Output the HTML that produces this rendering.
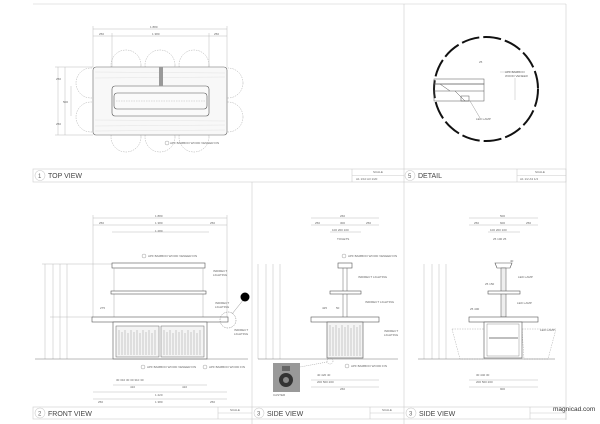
<!DOCTYPE html>
<html><head><meta charset="utf-8"><style>
html,body{margin:0;padding:0;background:#fff;width:600px;height:424px;overflow:hidden}
svg{display:block}
text{font-family:"Liberation Sans",sans-serif;fill:#666}
.t{font-size:3px}
.ti{font-size:7px;fill:#444}
</style></head><body>
<svg width="600" height="424" viewBox="0 0 600 424" xmlns="http://www.w3.org/2000/svg">
<g fill="none" stroke="#ccc" stroke-width="0.6">
<line x1="33" y1="4" x2="566" y2="4"/>
<line x1="404" y1="4" x2="404" y2="424"/>
<line x1="566" y1="4" x2="566" y2="420"/>
<line x1="252" y1="182" x2="252" y2="424"/>
<rect x="33" y="169" width="533" height="13"/>
<rect x="33" y="407" width="533" height="12"/>
<line x1="352" y1="169" x2="352" y2="182"/>
<line x1="352" y1="175.5" x2="404" y2="175.5"/>
<line x1="517" y1="169" x2="517" y2="182"/>
<line x1="517" y1="175.5" x2="566" y2="175.5"/>
<line x1="218" y1="407" x2="218" y2="419"/><line x1="218" y1="413" x2="252" y2="413"/>
<line x1="370" y1="407" x2="370" y2="419"/><line x1="370" y1="413" x2="404" y2="413"/>
<line x1="530" y1="407" x2="530" y2="419"/><line x1="530" y1="413" x2="566" y2="413"/>
<circle cx="40" cy="175.5" r="5"/><circle cx="410" cy="175.5" r="5"/>
<circle cx="40" cy="413" r="5"/><circle cx="259" cy="413" r="5"/><circle cx="411" cy="413" r="5"/>
</g>
<text x="38" y="178" class="t" style="font-size:6px">1</text><text x="48" y="178" class="ti">TOP VIEW</text>
<text x="408" y="178" class="t" style="font-size:6px">5</text><text x="418" y="178" class="ti">DETAIL</text>
<text x="38" y="415.5" class="t" style="font-size:6px">2</text><text x="48" y="416" class="ti">FRONT VIEW</text>
<text x="257" y="415.5" class="t" style="font-size:6px">3</text><text x="267" y="416" class="ti">SIDE VIEW</text>
<text x="409" y="415.5" class="t" style="font-size:6px">3</text><text x="419" y="416" class="ti">SIDE VIEW</text>
<text x="373" y="173" class="t">SCALE</text><text x="356" y="180" class="t">A1 1/10   A3 1/20</text>
<text x="535" y="173" class="t">SCALE</text><text x="520" y="180" class="t">A1 1/2   A3 1/4</text>
<text x="230" y="411" class="t">SCALE</text><text x="382" y="411" class="t">SCALE</text>
<text x="553" y="411" style="font-size:6.5px;fill:#333">magnicad.com</text>

<!-- TOP VIEW -->
<g fill="none" stroke="#bbb" stroke-width="0.5">
<line x1="93" y1="29" x2="227" y2="29"/><line x1="93" y1="36" x2="227" y2="36"/>
<line x1="93" y1="26" x2="93" y2="67"/><line x1="227" y1="26" x2="227" y2="67"/>
<line x1="112" y1="33" x2="112" y2="86"/><line x1="209" y1="33" x2="209" y2="86"/>
<line x1="58" y1="67" x2="58" y2="135"/><line x1="65" y1="67" x2="65" y2="135"/><line x1="71" y1="86" x2="71" y2="116"/>
<line x1="55" y1="67" x2="93" y2="67"/><line x1="55" y1="135" x2="93" y2="135"/>
</g>
<g fill="none" stroke="#aaa" stroke-width="0.5" stroke-dasharray="1.5,1">
<circle cx="126" cy="65" r="15"/><circle cx="160" cy="65" r="15"/><circle cx="194" cy="65" r="15"/>
<circle cx="126" cy="137" r="15"/><circle cx="160" cy="137" r="15"/><circle cx="194" cy="137" r="15"/>
<circle cx="91" cy="83" r="15"/><circle cx="91" cy="117" r="15"/>
<circle cx="228" cy="83" r="15"/><circle cx="228" cy="117" r="15"/>
</g>
<rect x="93" y="67" width="134" height="68" rx="3" fill="#f8f8f8" stroke="#666" stroke-width="0.6"/>
<g stroke="#ddd" stroke-width="0.4">
<line x1="95" y1="72" x2="225" y2="73"/><line x1="95" y1="78" x2="225" y2="77"/><line x1="95" y1="120" x2="225" y2="121"/><line x1="95" y1="126" x2="225" y2="125"/><line x1="95" y1="131" x2="225" y2="130"/>
</g>
<rect x="112" y="86" width="97" height="30" rx="3" fill="#fafafa" stroke="#555" stroke-width="0.6"/>
<rect x="114" y="93" width="93" height="16" rx="3" fill="none" stroke="#555" stroke-width="0.6"/>
<line x1="116" y1="101" x2="205" y2="101" stroke="#aaa" stroke-width="0.4" stroke-dasharray="1.5,1"/>
<rect x="159" y="67" width="4" height="19" fill="#999"/>
<text x="150" y="28" class="t">1 880</text><text x="99" y="35" class="t">250</text><text x="152" y="35" class="t">1 380</text><text x="214" y="35" class="t">250</text>
<text x="56" y="80" class="t">250</text><text x="56" y="125" class="t">250</text><text x="63" y="103" class="t">500</text>
<circle cx="167" cy="143" r="2" fill="none" stroke="#888" stroke-width="0.4"/>
<text x="170" y="144" class="t">APF BAMBOO WOOD VENEER FIN</text>

<!-- DETAIL -->
<circle cx="486" cy="89" r="52" fill="none" stroke="#111" stroke-width="2" stroke-dasharray="18,4"/>
<g fill="none" stroke="#555" stroke-width="0.5">
<rect x="434" y="79" width="50" height="5"/>
<rect x="434" y="84" width="50" height="17"/>
<line x1="434" y1="91" x2="484" y2="91"/>
<line x1="440" y1="84" x2="450" y2="91"/><line x1="455" y1="91" x2="465" y2="101"/>
<rect x="461" y="96" width="8" height="5"/>
<line x1="470" y1="101" x2="480" y2="118" stroke="#999"/>
<line x1="500" y1="72" x2="518" y2="72" stroke="#bbb"/><line x1="515" y1="78" x2="515" y2="100" stroke="#bbb"/>
</g>
<text x="479" y="63" class="t">25</text><text x="476" y="120" class="t">LED LAMP</text>
<text x="505" y="73" class="t">APF BAMBOO</text><text x="505" y="77" class="t">WOOD VENEER</text>

<!-- FRONT VIEW -->
<g fill="none" stroke="#bbb" stroke-width="0.5">
<line x1="93" y1="218" x2="227" y2="218"/><line x1="93" y1="225" x2="227" y2="225"/><line x1="112" y1="232" x2="209" y2="232"/>
<line x1="93" y1="215" x2="93" y2="317"/><line x1="227" y1="215" x2="227" y2="317"/>
<line x1="45" y1="264" x2="45" y2="359"/><line x1="53" y1="264" x2="53" y2="359"/><line x1="60" y1="264" x2="60" y2="359"/><line x1="67" y1="264" x2="67" y2="359"/>
<line x1="42" y1="264" x2="112" y2="264"/><line x1="50" y1="317" x2="93" y2="317"/>
<line x1="113" y1="385" x2="207" y2="385"/><line x1="93" y1="392" x2="227" y2="392"/><line x1="93" y1="399" x2="227" y2="399"/>
</g>
<rect x="112" y="263" width="93" height="5" fill="#fff" stroke="#555" stroke-width="0.6"/>
<line x1="114" y1="268" x2="114" y2="317" stroke="#aaa" stroke-width="0.5"/><line x1="203" y1="268" x2="203" y2="317" stroke="#aaa" stroke-width="0.5"/>
<rect x="111" y="291" width="95" height="3" fill="#fff" stroke="#555" stroke-width="0.6"/>
<rect x="92" y="317" width="136" height="5" fill="#fff" stroke="#555" stroke-width="0.6"/>
<rect x="113" y="322" width="94" height="37" fill="#fff" stroke="#555" stroke-width="0.6"/>
<rect x="116" y="326" width="43" height="31" fill="#f4f4f4" stroke="#666" stroke-width="0.5"/>
<rect x="161" y="326" width="43" height="31" fill="#f4f4f4" stroke="#666" stroke-width="0.5"/>
<g stroke="#888" stroke-width="0.4">
<path d="M119 330v25M122 332v23M125 330v25M128 333v22M131 330v25M134 332v23M137 330v25M140 333v22M143 330v25M146 332v23M149 330v25M152 333v22M155 330v25"/>
<path d="M164 330v25M167 332v23M170 330v25M173 333v22M176 330v25M179 332v23M182 330v25M185 333v22M188 330v25M191 332v23M194 330v25M197 333v22M200 330v25"/>
</g>
<line x1="35" y1="359" x2="248" y2="359" stroke="#777" stroke-width="0.5"/>
<circle cx="228" cy="320" r="8" fill="none" stroke="#777" stroke-width="0.5" stroke-dasharray="1.5,1"/>
<line x1="232" y1="314" x2="244" y2="299" stroke="#777" stroke-width="0.4"/>
<circle cx="245" cy="297" r="4.5" fill="#000"/>
<text x="155" y="217" class="t">1 880</text><text x="99" y="224" class="t">250</text><text x="155" y="224" class="t">1 380</text><text x="210" y="224" class="t">250</text><text x="155" y="232" class="t">1 280</text>
<circle cx="144" cy="256" r="2" fill="none" stroke="#888" stroke-width="0.4"/><text x="148" y="257" class="t">APF BAMBOO WOOD VENEER FIN</text>
<text x="213" y="272" class="t">INDIRECT</text><text x="213" y="276" class="t">LIGHTING</text>
<text x="215" y="304" class="t">INDIRECT</text><text x="215" y="308" class="t">LIGHTING</text>
<text x="234" y="331" class="t">INDIRECT</text><text x="234" y="335" class="t">LIGHTING</text>
<text x="100" y="309" class="t">275</text>
<circle cx="143" cy="367" r="2" fill="none" stroke="#888" stroke-width="0.4"/><text x="147" y="368" class="t">APF BAMBOO WOOD VENEER FIN</text>
<circle cx="205" cy="367" r="2" fill="none" stroke="#888" stroke-width="0.4"/><text x="209" y="368" class="t">APF BAMBOO WOOD FIN</text>
<text x="116" y="381" class="t">30    310    30 30    310    30</text><text x="130" y="388" class="t">410</text><text x="182" y="388" class="t">410</text>
<text x="155" y="396" class="t">1 220</text><text x="155" y="403" class="t">1 380</text><text x="98" y="403" class="t">250</text><text x="210" y="403" class="t">250</text>

<!-- SIDE VIEW 1 -->
<g fill="none" stroke="#bbb" stroke-width="0.5">
<line x1="311" y1="218" x2="379" y2="218"/><line x1="311" y1="225" x2="379" y2="225"/><line x1="330" y1="232" x2="361" y2="232"/>
<line x1="258" y1="264" x2="258" y2="359"/><line x1="266" y1="264" x2="266" y2="359"/><line x1="273" y1="264" x2="273" y2="359"/><line x1="280" y1="264" x2="280" y2="359"/>
<line x1="311" y1="380" x2="379" y2="380"/><line x1="311" y1="387" x2="379" y2="387"/>
</g>
<rect x="338" y="263" width="14" height="5" fill="#fff" stroke="#555" stroke-width="0.6"/>
<line x1="343" y1="268" x2="343" y2="317" stroke="#666" stroke-width="0.5"/><line x1="347" y1="268" x2="347" y2="317" stroke="#666" stroke-width="0.5"/>
<rect x="330" y="291" width="31" height="3" fill="#fff" stroke="#555" stroke-width="0.6"/>
<rect x="311" y="317" width="68" height="5" fill="#fff" stroke="#555" stroke-width="0.6"/>
<rect x="327" y="322" width="36" height="36" fill="#f4f4f4" stroke="#555" stroke-width="0.6"/>
<g stroke="#888" stroke-width="0.4"><path d="M330 325v31M333 327v29M336 325v31M339 328v28M342 325v31M345 327v29M348 325v31M351 328v28M354 325v31M357 327v29M360 325v31"/></g>
<line x1="258" y1="359" x2="398" y2="359" stroke="#777" stroke-width="0.5"/>
<circle cx="330" cy="361" r="3" fill="none" stroke="#777" stroke-width="0.4" stroke-dasharray="1,1"/>
<line x1="327" y1="362" x2="300" y2="367" stroke="#777" stroke-width="0.4" stroke-dasharray="1,1"/>
<rect x="273" y="363" width="27" height="29" fill="#999"/>
<circle cx="286" cy="380" r="7" fill="#333"/><circle cx="286" cy="380" r="3" fill="#888"/>
<rect x="282" y="366" width="8" height="5" fill="#666"/>
<text x="273" y="396" class="t">CASTER</text>
<text x="340" y="217" class="t">260</text><text x="315" y="224" class="t">250</text><text x="340" y="224" class="t">300</text><text x="366" y="224" class="t">250</text>
<text x="332" y="231" class="t">100  200  100</text><text x="337" y="240" class="t">TOGETS</text>
<circle cx="344" cy="256" r="2" fill="none" stroke="#888" stroke-width="0.4"/><text x="348" y="257" class="t">APF BAMBOO WOOD VENEER FIN</text>
<text x="358" y="278" class="t">INDIRECT LIGHTING</text><text x="365" y="303" class="t">INDIRECT LIGHTING</text>
<text x="384" y="332" class="t">INDIRECT</text><text x="384" y="336" class="t">LIGHTING</text>
<text x="322" y="309" class="t">425</text><text x="336" y="309" class="t">50</text>
<circle cx="347" cy="366" r="2" fill="none" stroke="#888" stroke-width="0.4"/><text x="351" y="367" class="t">APF BAMBOO WOOD FIN</text>
<text x="317" y="376" class="t">40    420    40</text><text x="317" y="383" class="t">200    500    200</text><text x="340" y="390" class="t">260</text>

<!-- SIDE VIEW 2 -->
<g fill="none" stroke="#bbb" stroke-width="0.5">
<line x1="469" y1="218" x2="538" y2="218"/><line x1="469" y1="225" x2="538" y2="225"/><line x1="488" y1="232" x2="520" y2="232"/>
<line x1="424" y1="264" x2="424" y2="359"/><line x1="432" y1="264" x2="432" y2="359"/><line x1="439" y1="264" x2="439" y2="359"/><line x1="446" y1="264" x2="446" y2="359"/>
<line x1="469" y1="380" x2="538" y2="380"/><line x1="469" y1="387" x2="538" y2="387"/>
</g>
<g fill="none" stroke="#999" stroke-width="0.4" stroke-dasharray="1.5,1">
<path d="M452 329L486 329L484 359L460 359Z"/><path d="M522 329L556 329L548 359L524 359Z"/>
</g>
<path d="M495 263h17l-2 5h-13z" fill="#fff" stroke="#555" stroke-width="0.6"/>
<rect x="501" y="268" width="5" height="49" fill="#eee" stroke="#555" stroke-width="0.5"/>
<rect x="488" y="291" width="32" height="3" fill="#fff" stroke="#555" stroke-width="0.6"/>
<rect x="469" y="317" width="69" height="5" fill="#fff" stroke="#555" stroke-width="0.6"/>
<rect x="484" y="322" width="38" height="36" fill="#fff" stroke="#555" stroke-width="0.6"/>
<rect x="487" y="324" width="32" height="32" fill="none" stroke="#777" stroke-width="0.4"/>
<line x1="489" y1="338" x2="518" y2="338" stroke="#555" stroke-width="0.8"/>
<line x1="418" y1="359" x2="555" y2="359" stroke="#777" stroke-width="0.5"/>
<text x="500" y="217" class="t">500</text><text x="474" y="224" class="t">250</text><text x="500" y="224" class="t">600</text><text x="526" y="224" class="t">250</text>
<text x="490" y="231" class="t">100  200  100</text><text x="493" y="240" class="t">25  100  25</text>
<text x="510" y="262" class="t">40</text><text x="518" y="278" class="t">LED LAMP</text><text x="485" y="285" class="t">25 150</text>
<text x="517" y="304" class="t">LED LAMP</text><text x="470" y="310" class="t">25    400</text>
<text x="540" y="331" class="t">LED LAMP</text>
<text x="476" y="376" class="t">30     440     30</text><text x="476" y="383" class="t">200    500    200</text><text x="500" y="390" class="t">900</text>
</svg>
</body></html>
